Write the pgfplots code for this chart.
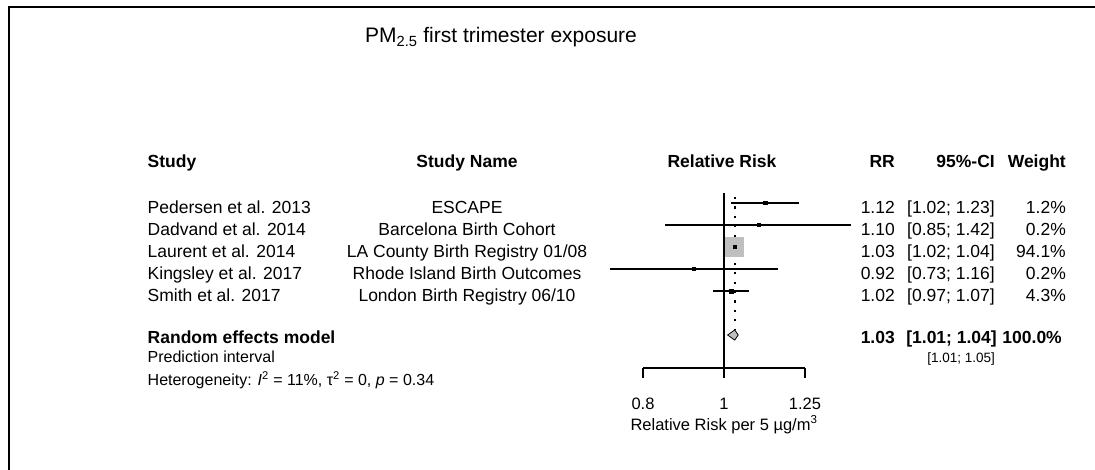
\documentclass[border=0pt]{standalone}
\usepackage{fontspec}
\setmainfont{Liberation Sans}
\usepackage{pgfplots}
\pgfplotsset{compat=1.18}

\newcommand\rowfont{\fontsize{17.5bp}{20bp}\selectfont}
\newcommand\smallfont{\fontsize{16bp}{18bp}\selectfont}
\newcommand\tinyfont{\fontsize{13.5bp}{15bp}\selectfont}
\newcommand\tickfont{\fontsize{16.5bp}{18bp}\selectfont}

% one study: baseline, author, study name, RR, CI, weight
\newcommand\studyrow[6]{%
  \node[anchor=base west] at (147.5bp,#1bp) {#2};
  \node[anchor=base] at (467bp,#1bp) {#3};
  \node[anchor=base east] at (895bp,#1bp) {#4};
  \node[anchor=base east] at (995bp,#1bp) {#5};
  \node[anchor=base east] at (1066bp,#1bp) {#6};}

\begin{document}
\begin{tikzpicture}[every node/.style={inner sep=0pt, font=\rowfont}]
\path[use as bounding box, fill=white] (0,0) rectangle (1095bp,470bp);
\draw[line width=1.8bp] (9bp,0) -- (9bp,463bp) -- (1100bp,463bp);

\begin{axis}[
  at={(643bp,102bp)}, anchor=south west,
  scale only axis, width=162bp, height=176bp,
  xmode=log, xmin=0.8, xmax=1.25, ymin=-8.5, ymax=-0.5,
  axis x line*=bottom, axis y line=none,
  xtick={0.8,1,1.25}, xticklabels={}, minor xtick={},
  tick align=outside, major tick length=10bp,
  every tick/.style={black, line width=1.7bp},
  axis line style={black, line width=1.7bp},
  clip=false,
]
% weight box of the dominant study
\addplot[only marks, mark=square*, mark size=9.2bp, color=gray!50,
  mark options={fill=gray!50, draw=gray!50, line width=0pt}]
  coordinates {(1.03,-3)};
% line of no effect
\addplot[black, line width=1.7bp] coordinates {(1,-0.545) (1,-8.5)};
% pooled estimate
\addplot[black, line width=2.1bp, dash pattern=on 2.1bp off 7.3bp]
  coordinates {(1.03,-0.73) (1.03,-6.77)};
% confidence intervals
\addplot[black, line width=1.8bp] coordinates {(1.02,-1) (1.23,-1)};
\addplot[black, line width=1.8bp] coordinates {(0.85,-2) (1.42,-2)};
\addplot[black, line width=1.8bp] coordinates {(1.02,-3) (1.04,-3)};
\addplot[black, line width=1.8bp] coordinates {(0.73,-4) (1.16,-4)};
\addplot[black, line width=1.8bp] coordinates {(0.97,-5) (1.07,-5)};
% point estimates
\addplot[only marks, mark=square*, mark size=1.6bp, black]
  coordinates {(1.12,-1) (1.10,-2) (0.92,-4) (1.03,-3)};
\addplot[only marks, mark=square*, mark size=2bp, black]
  coordinates {(1.02,-5)};
% random effects diamond
\addplot[fill=gray!50, draw=black, line width=0.8bp]
  coordinates {(1.01,-7) (1.03,-6.77) (1.04,-7) (1.03,-7.23)} -- cycle;

\node[anchor=base, font=\tickfont] at ([yshift=-41bp]axis cs:0.8,-8.5) {0.8};
\node[anchor=base, font=\tickfont] at ([yshift=-41bp]axis cs:1,-8.5) {1};
\node[anchor=base, font=\tickfont] at ([yshift=-41bp]axis cs:1.25,-8.5) {1.25};
\node[anchor=base, font=\tickfont] at ([yshift=-62bp]axis cs:1,-8.5)
  {Relative Risk per 5 µg/m\textsuperscript{3}};
\end{axis}

% title
\node[anchor=base, font=\fontsize{21bp}{24bp}\selectfont] at (501bp,427bp)
  {PM\textsubscript{2.5} first trimester exposure};

% column headers
\begin{scope}[every node/.append style={font=\rowfont\bfseries}]
\node[anchor=base west] at (147.5bp,302bp) {Study};
\node[anchor=base] at (467bp,302bp) {Study Name};
\node[anchor=base] at (722bp,302bp) {Relative Risk};
\node[anchor=base east] at (895bp,302bp) {RR};
\node[anchor=base east] at (995bp,302bp) {95\%-CI};
\node[anchor=base east] at (1066bp,302bp) {Weight};
\end{scope}

% studies
\studyrow{256}{Pedersen et al. 2013}{ESCAPE}{1.12}{[1.02; 1.23]}{1.2\%}
\studyrow{234}{Dadvand et al. 2014}{Barcelona Birth Cohort}{1.10}{[0.85; 1.42]}{0.2\%}
\studyrow{212}{Laurent et al. 2014}{LA County Birth Registry 01/08}{1.03}{[1.02; 1.04]}{94.1\%}
\studyrow{190}{Kingsley et al. 2017}{Rhode Island Birth Outcomes}{0.92}{[0.73; 1.16]}{0.2\%}
\studyrow{168}{Smith et al. 2017}{London Birth Registry 06/10}{1.02}{[0.97; 1.07]}{4.3\%}

% pooled result
\begin{scope}[every node/.append style={font=\rowfont\bfseries}]
\node[anchor=base west] at (147.5bp,126bp) {Random effects model};
\node[anchor=base east] at (895bp,126bp) {1.03};
\node[anchor=base east] at (997bp,126bp) {[1.01; 1.04]};
\node[anchor=base east] at (1062bp,126bp) {100.0\%};
\end{scope}
\node[anchor=base west, font=\smallfont] at (147.5bp,107bp) {Prediction interval};
\node[anchor=base east, font=\tinyfont] at (995bp,107bp) {[1.01; 1.05]};
\node[anchor=base west, font=\smallfont] at (147.5bp,84bp)
  {Heterogeneity: \textit{I}\textsuperscript{2} = 11\%, τ\textsuperscript{2} = 0, \textit{p} = 0.34};
\end{tikzpicture}
\end{document}
